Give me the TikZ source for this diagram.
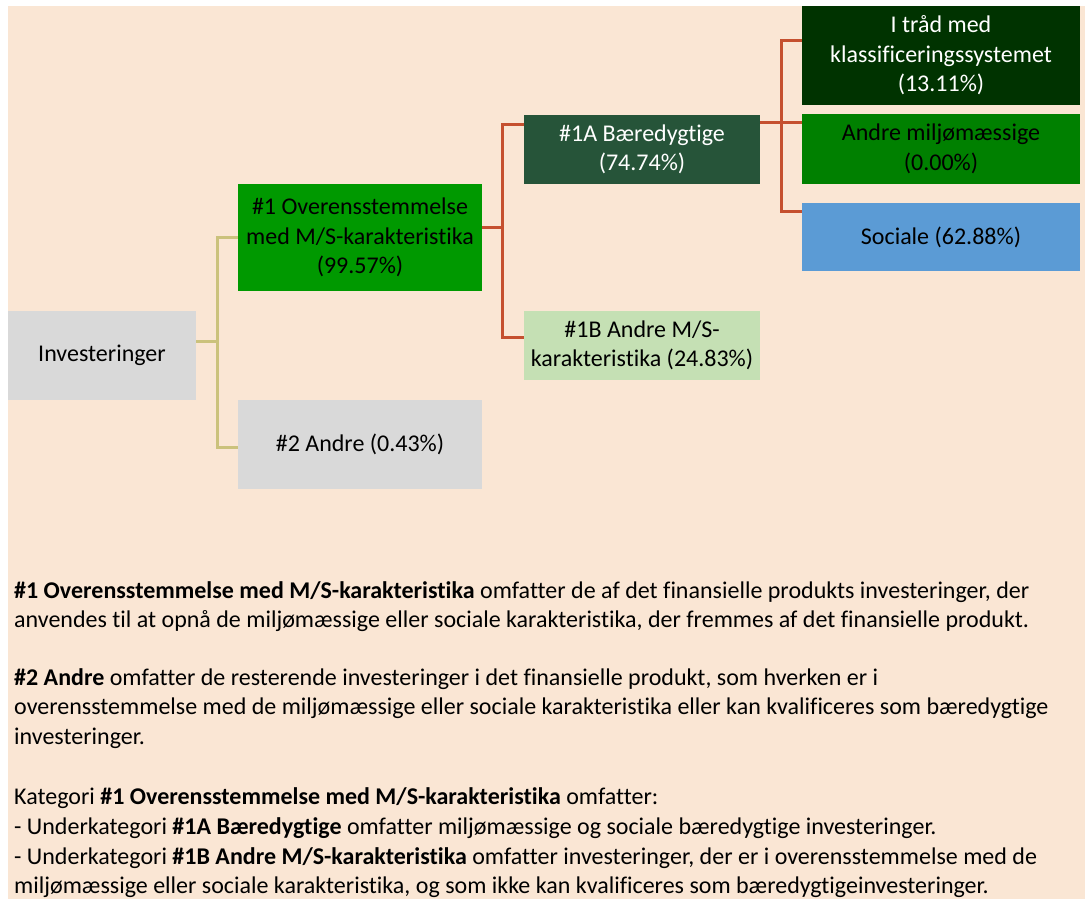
\documentclass[tikz,border=0pt]{standalone}
\usepackage{fontspec}
\setmainfont{Carlito}[Ligatures=NoCommon]
\definecolor{peach}{HTML}{FAE6D4}
\definecolor{lgray}{HTML}{D9D9D9}
\definecolor{brightgreen}{HTML}{009900}
\definecolor{darkgreen}{HTML}{265439}
\definecolor{palegreen}{HTML}{C5E0B4}
\definecolor{deepgreen}{HTML}{003300}
\definecolor{midgreen}{HTML}{008000}
\definecolor{skyblue}{HTML}{5B9BD5}
\definecolor{khaki}{HTML}{CBC27C}
\definecolor{rust}{HTML}{C5502F}
\tikzset{
  box/.style={rectangle, inner sep=0pt, align=center, font=\fontsize{24pt}{29.5pt}\selectfont, text=black},
  yel/.style={draw=khaki, line width=3pt},
  redl/.style={draw=rust, line width=3pt},
  para/.style={anchor=base west, inner sep=0pt, font=\fontsize{24pt}{29.5pt}\selectfont}
}
\begin{document}
\begin{tikzpicture}[x=1pt,y=1pt]
\useasboundingbox (0,0) rectangle (1085,-899);
\fill[white] (0,0) rectangle (1085,-899);
\fill[peach] (8,-6) rectangle (1085,-899);
% connectors
\node[box, fill=lgray, minimum width=188pt, minimum height=89pt] (inv) at (102,-355.5) {Investeringer};
\node[box, fill=brightgreen, minimum width=244pt, minimum height=107pt] (n1) at (360,-237.5) {\#1 Overensstemmelse\\med M/S-karakteristika\\(99.57\%)};
\node[box, fill=lgray, minimum width=244pt, minimum height=89pt] (n2) at (360,-444.5) {\#2 Andre (0.43\%)};
\node[box, fill=darkgreen, text=white, minimum width=236pt, minimum height=69pt] (n1a) at (642,-149.5) {\#1A Bæredygtige\\(74.74\%)};
\node[box, fill=palegreen, minimum width=236pt, minimum height=69pt] (n1b) at (642,-345.5) {\#1B Andre M/S-\\karakteristika (24.83\%)};
\node[box, fill=deepgreen, text=white, minimum width=278pt, minimum height=99pt] (it) at (941,-55.5) {I tråd med\\klassificeringssystemet\\(13.11\%)};
\node[box, fill=midgreen, minimum width=278pt, minimum height=70pt] (am) at (941,-149) {Andre miljømæssige\\(0.00\%)};
\node[box, fill=skyblue, minimum width=278pt, minimum height=68pt] (so) at (941,-237) {Sociale (62.88\%)};
\coordinate (j1) at (217,-341);
\draw[yel] ([yshift=14.5pt]inv.east) -- (j1);
\draw[yel] (n1.west) -| (j1) |- ([yshift=-2.5pt]n2.west);
\coordinate (j2) at (502,-227);
\draw[redl] ([yshift=10.5pt]n1.east) -- (j2);
\draw[redl] ([yshift=25.5pt]n1a.west) -| (j2) |- ([yshift=8.5pt]n1b.west);
\coordinate (j3) at (781,-122);
\draw[redl] ([yshift=27.5pt]n1a.east) -- ([yshift=27pt]am.west);
\draw[redl] ([yshift=14.5pt]it.west) -| (j3) |- ([yshift=26pt]so.west);
% text
\node[para] (t1) at (14,-598) {\textbf{\#1 Overensstemmelse med M/S-karakteristika} omfatter de af det finansielle produkts investeringer, der};
\node[para] (t2) at (14,-627) {anvendes til at opnå de miljømæssige eller sociale karakteristika, der fremmes af det finansielle produkt.};
\node[para] (t3) at (14,-685) {\textbf{\#2 Andre} omfatter de resterende investeringer i det finansielle produkt, som hverken er i};
\node[para] (t4) at (14,-714) {overensstemmelse med de miljømæssige eller sociale karakteristika eller kan kvalificeres som bæredygtige};
\node[para] (t5) at (14,-744) {investeringer.};
\node[para] (t6) at (14,-804) {Kategori \textbf{\#1 Overensstemmelse med M/S-karakteristika} omfatter:};
\node[para] (t7) at (14,-834) {- Underkategori \textbf{\#1A Bæredygtige} omfatter miljømæssige og sociale bæredygtige investeringer.};
\node[para] (t8) at (14,-864) {- Underkategori \textbf{\#1B Andre M/S-karakteristika} omfatter investeringer, der er i overensstemmelse med de};
\node[para] (t9) at (14,-893) {miljømæssige eller sociale karakteristika, og som ikke kan kvalificeres som bæredygtigeinvesteringer.};
\end{tikzpicture}
\end{document}
